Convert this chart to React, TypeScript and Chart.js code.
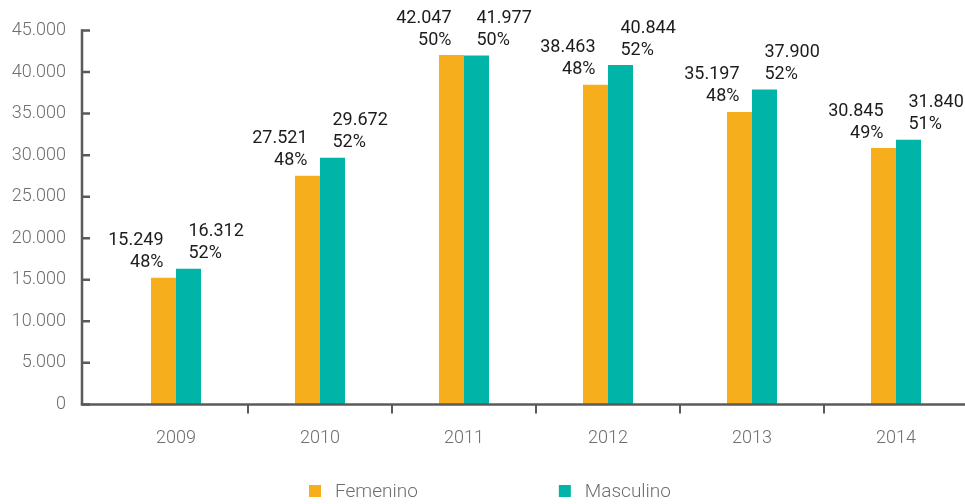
import React, { useEffect, useRef } from "react";
import { Chart, registerables } from "chart.js";

Chart.register(...registerables);

const years = ["2009", "2010", "2011", "2012", "2013", "2014"];
const femenino = [15249, 27521, 42047, 38463, 35197, 30845];
const masculino = [16312, 29672, 41977, 40844, 37900, 31840];
const femeninoPct = [48, 48, 50, 48, 48, 49];
const masculinoPct = [52, 52, 50, 52, 52, 51];
const seriesNames = ["Femenino", "Masculino"];
const yMax = 45000;
const yStep = 5000;

const ORANGE = "#F6AE1C";
const TEAL = "#00B4A7";
const AXIS = "#5a5a5a";
const TICK_TEXT = "#6e6e6e";
const LABEL_TEXT = "#1c1c1c";
const FONT = "Roboto, 'DejaVu Sans', sans-serif";
const VIEW_W = 965;

const fmt = (n: number) => String(n).replace(/\B(?=(\d{3})+(?!\d))/g, ".");

const axesPlugin = {
  id: "axesDeco",
  afterDatasetsDraw(chart: any) {
    const { ctx, chartArea, scales } = chart;
    const y = scales.y;
    const x0 = chartArea.left - 22;
    ctx.save();
    ctx.strokeStyle = AXIS;
    ctx.lineWidth = 2.5;
    ctx.beginPath();
    ctx.moveTo(x0, y.getPixelForValue(yMax) - 1.25);
    ctx.lineTo(x0, chartArea.bottom);
    ctx.stroke();
    ctx.beginPath();
    y.ticks.forEach((t: any) => {
      const py = y.getPixelForValue(t.value);
      ctx.moveTo(x0, py);
      ctx.lineTo(x0 + 8, py);
    });
    ctx.stroke();
    ctx.beginPath();
    ctx.moveTo(x0 - 1.25, chartArea.bottom);
    ctx.lineTo(chart.width, chartArea.bottom);
    ctx.stroke();
    ctx.restore();
  },
};

const labelsPlugin = {
  id: "barLabels",
  afterDatasetsDraw(chart: any) {
    const { ctx } = chart;
    const pcts = [femeninoPct, masculinoPct];
    ctx.save();
    ctx.font = `400 18px ${FONT}`;
    ctx.fillStyle = LABEL_TEXT;
    ctx.textBaseline = "middle";
    chart.data.datasets.forEach((ds: any, i: number) => {
      const meta = chart.getDatasetMeta(i);
      ctx.textAlign = i === 0 ? "right" : "left";
      meta.data.forEach((bar: any, j: number) => {
        const x = bar.x;
        const top = bar.y;
        ctx.fillText(fmt(ds.data[j]), x, top - 37);
        ctx.fillText(`${pcts[i][j]}%`, x, top - 15);
      });
    });
    ctx.restore();
  },
};

const legendPlugin = {
  id: "customLegend",
  afterDraw(chart: any) {
    const { ctx } = chart;
    ctx.save();
    ctx.font = `300 19px ${FONT}`;
    ctx.textBaseline = "middle";
    ctx.textAlign = "left";
    const box = 12;
    const gapText = 14;
    const gapItems = 141;
    const items = chart.data.datasets.map((ds: any) => ({
      label: ds.label,
      color: ds.backgroundColor,
      w: box + gapText + ctx.measureText(ds.label).width,
    }));
    const total = items.reduce((s: number, it: any) => s + it.w, 0) + gapItems * (items.length - 1);
    let x = VIEW_W / 2 + 7.5 - total / 2;
    const cy = 491;
    items.forEach((it: any) => {
      ctx.fillStyle = it.color;
      ctx.fillRect(x, cy - box / 2, box, box);
      ctx.fillStyle = TICK_TEXT;
      ctx.fillText(it.label, x + box + gapText, cy + 1);
      x += it.w + gapItems;
    });
    ctx.restore();
  },
};

export default function App() {
  const ref = useRef<HTMLCanvasElement | null>(null);

  useEffect(() => {
    document.body.style.margin = "0";
    document.body.style.overflow = "hidden";
    document.documentElement.style.overflow = "hidden";
    if (!ref.current) return;
    const chart = new Chart(ref.current, {
      type: "bar",
      data: {
        labels: years,
        datasets: [
          {
            label: seriesNames[0],
            data: femenino,
            backgroundColor: ORANGE,
            borderWidth: 0,
            categoryPercentage: 50 / 144,
            barPercentage: 1,
          },
          {
            label: seriesNames[1],
            data: masculino,
            backgroundColor: TEAL,
            borderWidth: 0,
            categoryPercentage: 50 / 144,
            barPercentage: 1,
          },
        ],
      },
      options: {
        animation: false,
        responsive: true,
        maintainAspectRatio: false,
        layout: { padding: { top: 30.5, left: 10, right: 0, bottom: 41 } },
        plugins: {
          legend: { display: false },
          tooltip: { enabled: false },
        },
        scales: {
          x: {
            offset: true,
            border: { display: false },
            grid: {
              display: true,
              offset: true,
              drawOnChartArea: false,
              drawTicks: true,
              tickLength: 9,
              lineWidth: 2,
              color: (c: any) => (c.index === 0 ? "rgba(0,0,0,0)" : AXIS),
            },
            ticks: {
              color: TICK_TEXT,
              font: { family: FONT, size: 18, weight: "300" },
              padding: 14,
            },
          },
          y: {
            min: 0,
            max: yMax,
            border: { display: false },
            grid: { display: false, drawTicks: false, tickLength: 0 },
            afterFit: (s: any) => {
              s.width = 94;
              s.paddingTop = 0;
              s.paddingBottom = 0;
            },
            ticks: {
              stepSize: yStep,
              color: TICK_TEXT,
              font: { family: FONT, size: 18, weight: "300" },
              padding: 38,
              callback: (v: any) => fmt(Number(v)),
            },
          },
        },
      },
      plugins: [axesPlugin, labelsPlugin, legendPlugin],
    });
    return () => chart.destroy();
  }, []);

  return (
    <div style={{ width: 968, height: 504, position: "relative" }}>
      <canvas ref={ref} />
    </div>
  );
}
